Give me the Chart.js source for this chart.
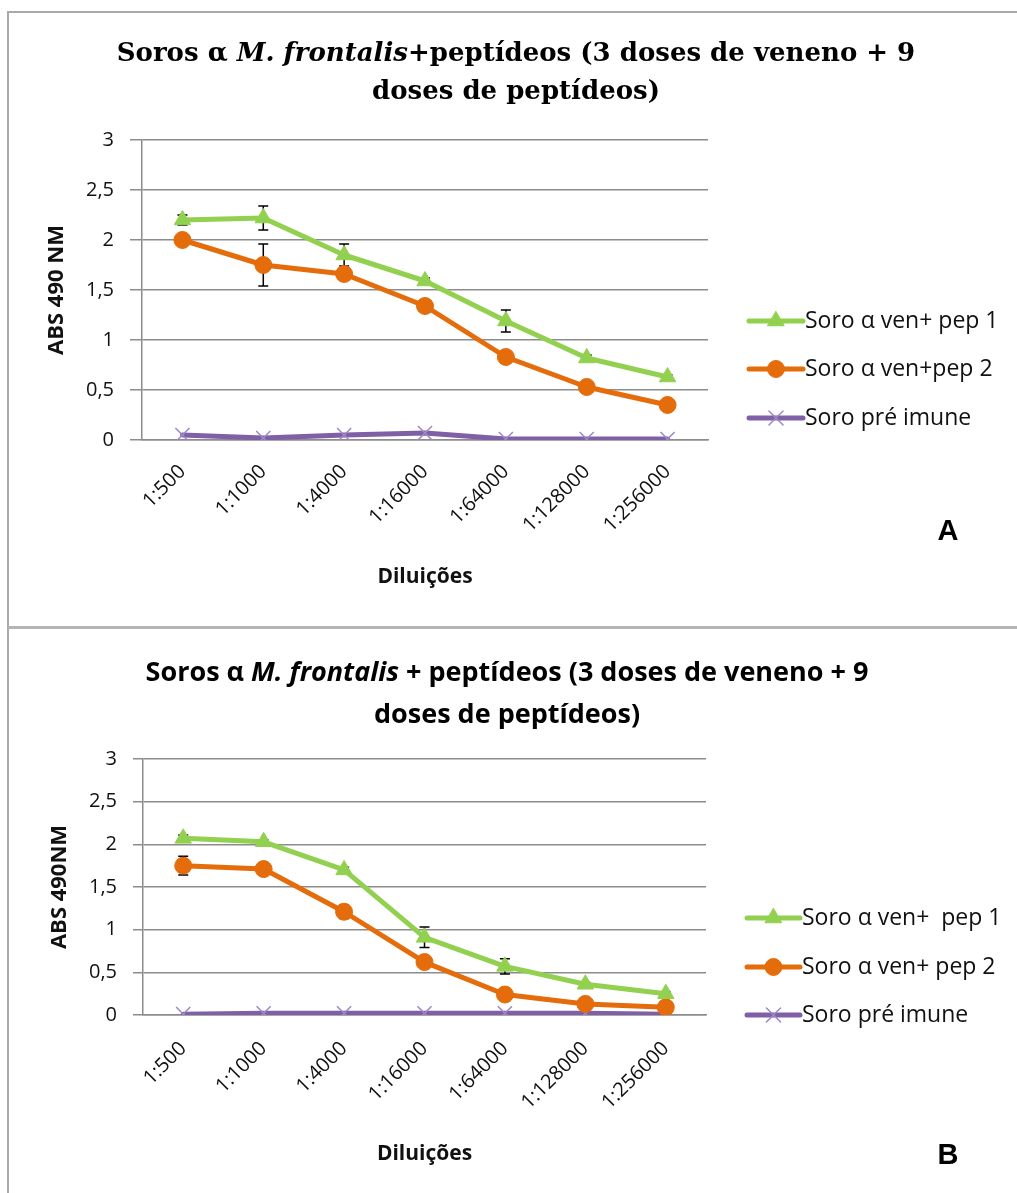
<!DOCTYPE html>
<html>
<head>
<meta charset="utf-8">
<script src="https://cdn.jsdelivr.net/npm/chart.js@4.4.0/dist/chart.umd.min.js"></script>
<style>
  html, body { margin: 0; padding: 0; background: #fff; }
  body { width: 1017px; height: 1193px; position: relative; overflow: hidden; }
  .frame { position: absolute; border-left: 2px solid #a9a9a9; border-top: 2px solid #a9a9a9; }
  #frameA { left: 7px; top: 11px; width: 1030px; height: 614px; }
  #frameB { left: 7px; top: 626px; width: 1030px; height: 600px; border-top: 3px solid #b4b4b4; }
  canvas { position: absolute; left: 0; }
  #chartA { top: 0; }
  #chartB { top: 628px; }
</style>
</head>
<body>
<div class="frame" id="frameA"></div>
<div class="frame" id="frameB"></div>
<canvas id="chartA" width="1017" height="626"></canvas>
<canvas id="chartB" width="1017" height="565"></canvas>
<script>
// Dilution series on the x axis
const dilutions = ['1:500', '1:1000', '1:4000', '1:16000', '1:64000', '1:128000', '1:256000'];
const yTickLabels = ['0', '0,5', '1', '1,5', '2', '2,5', '3'];
const seriesNames = ['Soro α ven+ pep 1', 'Soro α ven+pep 2', 'Soro pré imune'];
const seriesNamesB = ['Soro α ven+  pep 1', 'Soro α ven+ pep 2', 'Soro pré imune'];

// Panel A — ABS 490 nm
const pep1A = [2.20, 2.22, 1.85, 1.59, 1.19, 0.82, 0.63];
const pep1AErr = [0.05, 0.12, 0.11, 0.03, 0.11, 0.03, 0.02];
const pep2A = [2.00, 1.75, 1.66, 1.34, 0.83, 0.53, 0.35];
const pep2AErr = [0.04, 0.21, 0.04, 0.03, 0.03, 0.03, 0.02];
const preA = [0.05, 0.02, 0.05, 0.07, 0.01, 0.01, 0.01];

// Panel B — ABS 490 nm
const pep1B = [2.07, 2.03, 1.70, 0.91, 0.57, 0.36, 0.25];
const pep1BErr = [0.04, 0.02, 0.03, 0.12, 0.09, 0.02, 0.02];
const pep2B = [1.75, 1.71, 1.21, 0.62, 0.24, 0.13, 0.09];
const pep2BErr = [0.11, 0.02, 0.08, 0.03, 0.02, 0.02, 0.01];
const preB = [0.01, 0.02, 0.02, 0.02, 0.02, 0.02, 0.01];

const GREEN = '#92D050', ORANGE = '#E46C0A', PURPLE = '#7F5FA6', PURPLE_MARK = '#9C88C8';
const GRID = '#8c8c8c', INK = '#111111';
const SANS = '"Open Sans", "Noto Sans", sans-serif';

// Vertical error bars with caps, drawn under the series lines
const errorBars = {
  id: 'errorBars',
  beforeDatasetsDraw(chart) {
    const { ctx, scales: { x, y } } = chart;
    ctx.save();
    ctx.strokeStyle = '#000';
    ctx.lineWidth = 1.5;
    chart.data.datasets.forEach(ds => {
      if (!ds.errors) return;
      ds.data.forEach((v, i) => {
        const e = ds.errors[i];
        if (!e) return;
        const px = x.getPixelForValue(i);
        const top = y.getPixelForValue(v + e);
        const bot = y.getPixelForValue(v - e);
        ctx.beginPath();
        ctx.moveTo(px, top); ctx.lineTo(px, bot);
        ctx.moveTo(px - 5, top); ctx.lineTo(px + 5, top);
        ctx.moveTo(px - 5, bot); ctx.lineTo(px + 5, bot);
        ctx.stroke();
      });
    });
    ctx.restore();
  }
};

// Two-line heading with the species name in italics, plus panel letter
const headline = {
  id: 'headline',
  afterDraw(chart, args, opts) {
    const ctx = chart.ctx;
    ctx.save();
    ctx.fillStyle = '#000';
    ctx.textBaseline = 'middle';
    const fontFor = it => (it ? 'italic ' : '') + 'bold ' + opts.size + 'px ' + opts.family;
    const widths = opts.line1.map(s => { ctx.font = fontFor(s.italic); return ctx.measureText(s.text).width; });
    const total = widths.reduce((a, b) => a + b, 0);
    let x = opts.cx - total / 2;
    ctx.textAlign = 'left';
    opts.line1.forEach((s, k) => { ctx.font = fontFor(s.italic); ctx.fillText(s.text, x, opts.y1); x += widths[k]; });
    ctx.font = fontFor(false);
    ctx.textAlign = 'center';
    ctx.fillText(opts.line2, opts.cx, opts.y2);
    ctx.font = 'bold ' + opts.letterSize + 'px "Liberation Sans", Arial, sans-serif';
    ctx.fillText(opts.letter, opts.letterX, opts.letterY);
    ctx.restore();
  }
};

// Legend on the right: line sample with marker, then the series name
const sideLegend = {
  id: 'sideLegend',
  afterDraw(chart, args, opts) {
    const ctx = chart.ctx;
    chart.data.datasets.forEach((ds, i) => {
      const y = opts.rows[i];
      ctx.save();
      ctx.strokeStyle = ds.borderColor;
      ctx.lineWidth = ds.borderWidth;
      ctx.lineCap = 'round';
      ctx.beginPath();
      ctx.moveTo(opts.x0, y); ctx.lineTo(opts.x1, y);
      ctx.stroke();
      ctx.fillStyle = ds.pointBackgroundColor;
      ctx.strokeStyle = ds.pointBorderColor;
      ctx.lineWidth = ds.pointBorderWidth;
      Chart.helpers.drawPoint(ctx, {
        pointStyle: ds.pointStyle, radius: ds.pointRadius,
        borderWidth: ds.pointBorderWidth, rotation: 0
      }, (opts.x0 + opts.x1) / 2, y);
      ctx.fillStyle = INK;
      ctx.font = opts.fontSize + 'px ' + SANS;
      ctx.textAlign = 'left';
      ctx.textBaseline = 'middle';
      ctx.fillText(ds.label, opts.tx, y);
      ctx.restore();
    });
  }
};

function series(label, data, errors, color, style, radius, markColor, markWidth) {
  return {
    label, data, errors,
    borderColor: color, borderWidth: 5, tension: 0,
    borderJoinStyle: 'round', borderCapStyle: 'round',
    pointStyle: style, pointRadius: radius,
    pointBackgroundColor: markColor, pointBorderColor: markColor,
    pointBorderWidth: markWidth
  };
}

function build(id, p) {
  return new Chart(document.getElementById(id), {
    type: 'line',
    data: {
      labels: dilutions,
      datasets: [
        series(p.names[0], p.pep1, p.pep1Err, GREEN, 'triangle', 9.5, GREEN, 1),
        series(p.names[1], p.pep2, p.pep2Err, ORANGE, 'circle', 8.5, ORANGE, 1),
        series(p.names[2], p.pre, null, PURPLE, 'crossRot', 10, PURPLE_MARK, 1.5)
      ]
    },
    options: {
      responsive: false,
      animation: false,
      events: [],
      layout: { padding: p.padding },
      plugins: {
        legend: { display: false },
        title: { display: false },
        tooltip: { enabled: false },
        headline: p.headline,
        sideLegend: p.legend
      },
      scales: {
        x: {
          type: 'category',
          offset: true,
          grid: { display: false, drawTicks: false },
          border: { display: true, color: GRID, width: 1.5 },
          ticks: {
            autoSkip: false, minRotation: 45, maxRotation: 45,
            padding: p.xPad, color: INK, font: { family: SANS, size: 20 }
          },
          title: {
            display: true, text: 'Diluições', color: INK,
            font: { family: SANS, size: 21, weight: 'bold' },
            padding: { top: 0, bottom: 0 }
          },
          afterFit(s) { s.height = p.xHeight; }
        },
        y: {
          min: 0, max: 3,
          grid: { color: GRID, lineWidth: 1.5, tickLength: p.tickLen, tickColor: GRID },
          border: { display: true, color: GRID, width: 1.5 },
          ticks: {
            stepSize: 0.5, padding: 16, color: INK,
            font: { family: SANS, size: 20 },
            callback: (v, i) => yTickLabels[i]
          },
          title: {
            display: true, text: p.yTitle, color: INK,
            font: { family: SANS, size: 22, weight: 'bold' },
            padding: { top: p.yTitlePad, bottom: 0 }
          },
          afterFit(s) { s.width = p.yWidth; }
        }
      }
    },
    plugins: [errorBars, headline, sideLegend]
  });
}

function drawAll() {
  build('chartA', {
    names: seriesNames,
    pep1: pep1A, pep1Err: pep1AErr, pep2: pep2A, pep2Err: pep2AErr, pre: preA,
    padding: { left: 40, top: 140, right: 309, bottom: 36 },
    yWidth: 102, xHeight: 150, xPad: 20, tickLen: 12, yTitlePad: 4,
    yTitle: 'ABS 490 NM',
    headline: {
      family: '"DejaVu Serif", serif', size: 26, cx: 516, y1: 54, y2: 92,
      line1: [{ text: 'Soros α ', italic: false }, { text: 'M. frontalis', italic: true },
              { text: '+peptídeos (3 doses de veneno + 9', italic: false }],
      line2: 'doses de peptídeos)',
      letter: 'A', letterSize: 29, letterX: 948, letterY: 532
    },
    legend: { x0: 749, x1: 803, tx: 805, rows: [321, 369, 418], fontSize: 23 }
  });
  build('chartB', {
    names: seriesNamesB,
    pep1: pep1B, pep1Err: pep1BErr, pep2: pep2B, pep2Err: pep2BErr, pre: preB,
    padding: { left: 40, top: 131, right: 311, bottom: 26 },
    yWidth: 103, xHeight: 152, xPad: 22, tickLen: 10, yTitlePad: 7,
    yTitle: 'ABS 490NM',
    headline: {
      family: SANS, size: 27, cx: 507, y1: 45, y2: 87,
      line1: [{ text: 'Soros α ', italic: false }, { text: 'M. frontalis', italic: true },
              { text: ' + peptídeos (3 doses de veneno + 9', italic: false }],
      line2: 'doses de peptídeos)',
      letter: 'B', letterSize: 29, letterX: 948, letterY: 528
    },
    legend: { x0: 747, x1: 800, tx: 802, rows: [290, 339, 387], fontSize: 23 }
  });
}

const wanted = ['20px "Open Sans"', 'bold 20px "Open Sans"', 'italic bold 20px "Open Sans"',
                'bold 26px "DejaVu Serif"', 'italic bold 26px "DejaVu Serif"', 'bold 29px "Liberation Sans"'];
Promise.all(wanted.map(f => document.fonts.load(f).catch(() => null)))
  .then(drawAll, drawAll);
</script>
</body>
</html>
